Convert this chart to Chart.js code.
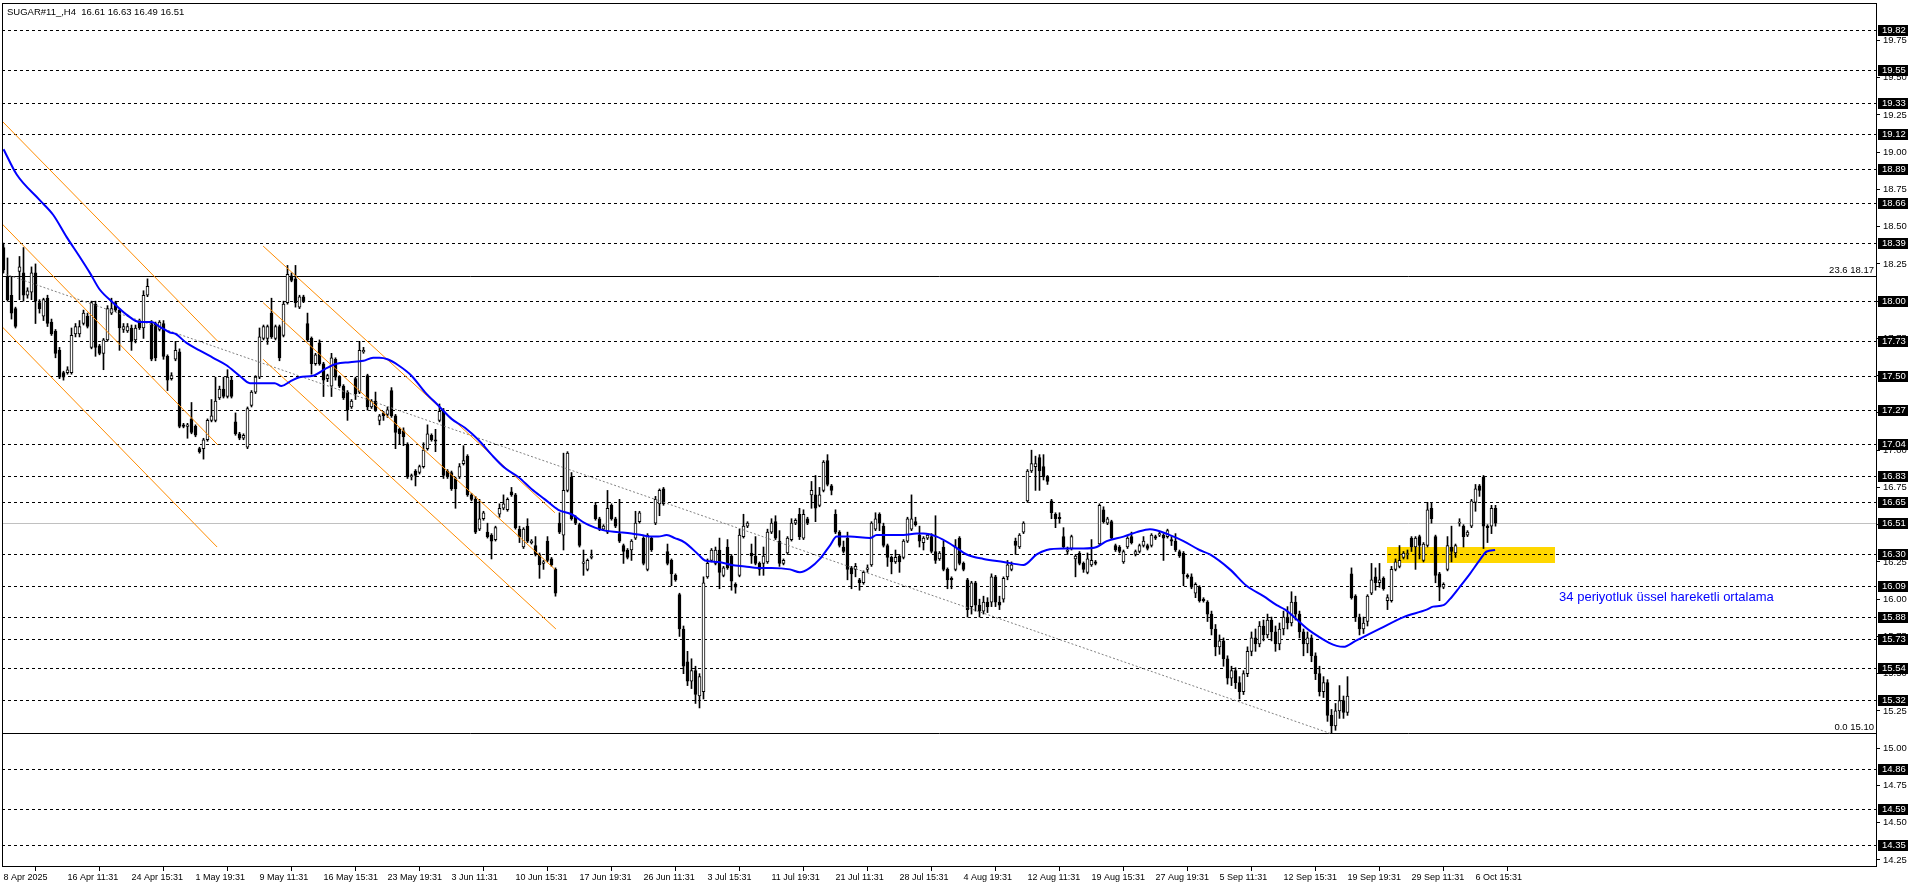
<!DOCTYPE html>
<html><head><meta charset="utf-8">
<script src="https://cdn.jsdelivr.net/npm/chart.js@4.4.1/dist/chart.umd.min.js"></script>
<style>html,body{margin:0;padding:0;background:#fff;overflow:hidden}#wrap{width:1916px;height:888px;position:relative}</style>
</head><body><div id="wrap"><canvas id="c"></canvas></div>
<script>
// ---------- DATA ----------
const opens = [
18.36,18.16,18.04,17.95,18.20,18.19,18.04,18.06,18.19,17.99,
17.90,18.02,17.86,17.80,17.67,17.52,17.52,17.52,17.78,17.78,
17.85,17.90,17.69,17.98,17.70,17.65,17.74,17.92,17.99,17.94,
17.81,17.80,17.82,17.74,17.87,17.82,18.04,17.85,17.85,17.81,
17.85,17.63,17.48,17.61,17.66,17.17,17.16,17.21,17.16,17.01,
17.01,17.07,17.20,17.20,17.35,17.41,17.36,17.47,17.19,17.11,
17.08,17.02,17.30,17.39,17.49,17.75,17.75,17.92,17.75,17.83,
17.77,17.99,18.17,18.15,17.96,18.03,17.85,17.75,17.58,17.72,
17.58,17.48,17.43,17.61,17.49,17.43,17.39,17.29,17.48,17.39,
17.66,17.50,17.29,17.33,17.20,17.25,17.24,17.40,17.23,17.14,
17.13,17.04,16.82,16.86,16.85,16.89,17.01,17.10,17.07,17.20,
17.26,16.86,16.85,16.81,16.82,16.91,16.96,16.70,16.67,16.47,
16.54,16.45,16.43,16.40,16.57,16.61,16.60,16.72,16.70,16.47,
16.35,16.49,16.38,16.36,16.30,16.24,16.39,16.27,16.20,16.51,
16.43,16.73,16.82,16.55,16.50,16.24,16.20,16.28,16.63,16.54,
16.47,16.45,16.63,16.54,16.44,16.36,16.33,16.33,16.41,16.52,
16.41,16.20,16.41,16.51,16.64,16.74,16.32,16.26,16.16,16.03,
15.80,15.58,15.45,15.52,15.35,15.38,16.15,16.26,16.24,16.33,
16.16,16.35,16.29,16.10,16.16,16.42,16.49,16.31,16.29,16.24,
16.24,16.25,16.45,16.52,16.39,16.24,16.31,16.40,16.51,16.57,
16.41,16.54,16.70,16.70,16.63,16.73,16.93,16.76,16.57,16.45,
16.35,16.41,16.21,16.20,16.13,16.11,16.20,16.23,16.47,16.57,
16.49,16.36,16.28,16.25,16.29,16.28,16.39,16.47,16.52,16.43,
16.38,16.41,16.42,16.32,16.27,16.35,16.20,16.14,16.20,16.41,
16.24,16.13,15.95,16.11,15.96,15.92,15.98,15.98,16.15,15.98,
16.00,16.15,16.20,16.39,16.35,16.45,16.66,16.86,16.89,16.95,
16.89,16.82,16.66,16.57,16.55,16.42,16.32,16.34,16.27,16.31,
16.24,16.18,16.23,16.25,16.37,16.60,16.51,16.52,16.36,16.35,
16.25,16.35,16.42,16.30,16.32,16.36,16.36,16.36,16.42,16.43,
16.43,16.42,16.40,16.39,16.32,16.31,16.16,16.15,16.04,16.08,
16.00,15.98,15.90,15.80,15.68,15.72,15.60,15.47,15.52,15.44,
15.38,15.50,15.65,15.74,15.70,15.82,15.76,15.86,15.78,15.70,
15.80,15.88,15.84,15.98,15.90,15.78,15.70,15.74,15.62,15.50,
15.38,15.44,15.22,15.15,15.25,15.32,15.24,16.17,16.02,15.88,
15.80,15.85,16.04,16.15,16.11,16.14,15.99,15.99,16.20,16.22,
16.28,16.30,16.41,16.35,16.42,16.26,16.36,16.61,16.42,16.17,
16.08,16.20,16.35,16.31,16.51,16.49,16.43,16.49,16.65,16.76,
16.82,16.49,16.49,16.61];
const highs = [
18.39,18.29,18.16,17.96,18.30,18.36,18.09,18.23,18.25,18.01,
18.02,18.04,17.88,17.81,17.69,17.53,17.56,17.82,17.85,17.87,
17.94,17.92,18.00,18.00,17.71,17.75,17.97,18.02,18.00,17.95,
17.85,17.85,17.84,17.84,17.88,18.07,18.15,17.87,17.86,17.87,
17.87,17.64,17.52,17.73,17.68,17.18,17.18,17.32,17.17,17.02,
17.08,17.21,17.34,17.49,17.43,17.49,17.54,17.49,17.25,17.12,
17.11,17.29,17.40,17.50,17.82,17.84,17.84,18.02,17.84,17.84,
18.00,18.24,18.19,18.24,18.04,18.04,17.92,17.76,17.65,17.74,
17.59,17.51,17.65,17.62,17.50,17.44,17.40,17.34,17.49,17.73,
17.69,17.51,17.34,17.39,17.24,17.26,17.29,17.42,17.24,17.15,
17.15,17.05,16.84,16.87,16.90,17.05,17.17,17.11,17.14,17.31,
17.28,16.87,16.86,16.82,16.91,17.03,16.97,16.71,16.69,16.67,
16.59,16.51,16.44,16.49,16.64,16.70,16.68,16.75,16.71,16.49,
16.48,16.54,16.40,16.42,16.31,16.26,16.42,16.28,16.21,16.58,
16.98,16.99,16.85,16.56,16.51,16.33,16.27,16.33,16.65,16.55,
16.50,16.73,16.64,16.55,16.67,16.37,16.34,16.40,16.59,16.59,
16.42,16.44,16.42,16.69,16.74,16.75,16.37,16.27,16.17,16.04,
15.82,15.65,15.60,15.55,15.50,16.15,16.27,16.34,16.35,16.41,
16.22,16.40,16.30,16.11,16.47,16.57,16.52,16.37,16.42,16.25,
16.35,16.47,16.54,16.56,16.46,16.27,16.42,16.54,16.54,16.61,
16.60,16.55,16.79,16.83,16.75,16.93,16.97,16.77,16.60,16.46,
16.39,16.45,16.22,16.24,16.14,16.19,16.23,16.52,16.58,16.58,
16.51,16.37,16.29,16.33,16.30,16.40,16.55,16.70,16.55,16.49,
16.42,16.44,16.44,16.56,16.32,16.39,16.21,16.15,16.40,16.42,
16.25,16.14,16.12,16.12,16.00,16.02,16.01,16.17,16.16,16.02,
16.15,16.26,16.25,16.41,16.44,16.52,16.87,17.00,16.96,16.97,
16.97,16.83,16.67,16.58,16.58,16.48,16.35,16.43,16.30,16.32,
16.25,16.31,16.40,16.26,16.64,16.62,16.55,16.53,16.37,16.36,
16.33,16.42,16.45,16.33,16.37,16.42,16.37,16.44,16.43,16.45,
16.44,16.47,16.42,16.44,16.33,16.32,16.17,16.17,16.11,16.09,
16.01,15.99,15.92,15.83,15.76,15.74,15.62,15.55,15.54,15.48,
15.52,15.68,15.78,15.80,15.85,15.86,15.90,15.88,15.82,15.84,
15.92,15.95,16.05,16.02,15.92,15.80,15.78,15.76,15.64,15.55,
15.48,15.46,15.26,15.30,15.42,15.35,15.48,16.21,16.03,15.90,
15.88,16.03,16.24,16.21,16.24,16.15,16.03,16.22,16.27,16.36,
16.32,16.33,16.42,16.42,16.43,16.38,16.65,16.65,16.43,16.18,
16.11,16.42,16.49,16.37,16.54,16.50,16.46,16.67,16.77,16.77,
16.83,16.50,16.63,16.63];
const lows = [
18.19,18.00,17.88,17.82,18.01,18.00,18.02,18.01,17.85,17.92,
17.87,17.83,17.77,17.62,17.48,17.47,17.51,17.51,17.76,17.76,
17.84,17.82,17.68,17.63,17.64,17.54,17.73,17.91,17.93,17.67,
17.79,17.79,17.67,17.72,17.81,17.75,18.03,17.60,17.60,17.80,
17.61,17.40,17.47,17.60,17.15,17.15,17.08,17.11,17.09,16.98,
16.94,17.06,17.19,17.19,17.34,17.35,17.35,17.35,17.10,17.07,
17.07,17.01,17.29,17.38,17.48,17.74,17.71,17.75,17.74,17.60,
17.76,17.98,18.13,17.96,17.95,17.99,17.73,17.51,17.57,17.57,
17.36,17.46,17.36,17.47,17.42,17.34,17.20,17.28,17.34,17.38,
17.65,17.27,17.28,17.26,17.17,17.20,17.22,17.22,17.01,17.04,
17.03,16.81,16.80,16.76,16.84,16.88,17.00,17.06,16.99,17.19,
16.81,16.81,16.73,16.61,16.81,16.90,16.69,16.66,16.44,16.46,
16.53,16.41,16.27,16.39,16.55,16.60,16.59,16.69,16.47,16.38,
16.34,16.38,16.37,16.29,16.14,16.20,16.25,16.22,16.02,16.44,
16.33,16.72,16.53,16.50,16.35,16.16,16.19,16.27,16.53,16.46,
16.46,16.44,16.53,16.48,16.38,16.24,16.27,16.26,16.40,16.51,
16.23,16.19,16.32,16.50,16.56,16.63,16.23,16.09,16.12,15.75,
15.50,15.42,15.40,15.30,15.27,15.33,16.14,16.25,16.23,16.07,
16.15,16.20,16.06,16.04,16.15,16.41,16.48,16.24,16.23,16.16,
16.16,16.24,16.44,16.40,16.22,16.23,16.30,16.39,16.50,16.40,
16.40,16.50,16.61,16.52,16.62,16.72,16.76,16.70,16.44,16.35,
16.31,16.13,16.07,16.15,16.06,16.10,16.18,16.22,16.46,16.46,
16.35,16.22,16.17,16.24,16.18,16.27,16.38,16.46,16.49,16.35,
16.33,16.40,16.31,16.24,16.26,16.19,16.07,16.07,16.19,16.23,
16.19,15.88,15.90,15.92,15.88,15.90,15.91,15.95,15.95,15.93,
15.98,16.13,16.19,16.30,16.34,16.44,16.65,16.85,16.73,16.73,
16.80,16.77,16.54,16.48,16.51,16.34,16.30,16.33,16.15,16.23,
16.18,16.17,16.22,16.23,16.36,16.51,16.50,16.40,16.32,16.31,
16.24,16.34,16.37,16.29,16.31,16.35,16.33,16.35,16.40,16.42,
16.26,16.41,16.36,16.32,16.28,16.09,16.14,16.07,16.01,15.98,
15.98,15.85,15.76,15.62,15.63,15.55,15.43,15.42,15.40,15.33,
15.36,15.48,15.62,15.65,15.68,15.72,15.74,15.72,15.65,15.66,
15.76,15.80,15.82,15.86,15.74,15.62,15.64,15.58,15.46,15.35,
15.34,15.18,15.10,15.12,15.20,15.20,15.22,16.00,15.85,15.76,
15.77,15.82,16.03,16.06,16.08,16.06,15.93,15.98,16.19,16.21,
16.27,16.27,16.32,16.20,16.27,16.25,16.35,16.51,16.11,15.99,
16.07,16.19,16.25,16.28,16.49,16.35,16.42,16.48,16.59,16.69,
16.34,16.38,16.44,16.49];
const closes = [
18.21,18.01,17.92,17.83,18.23,18.04,18.07,18.19,18.00,17.95,
18.01,17.85,17.78,17.65,17.49,17.49,17.54,17.77,17.83,17.83,
17.92,17.83,17.99,17.69,17.65,17.74,17.95,17.95,17.94,17.82,
17.83,17.83,17.73,17.82,17.82,18.04,18.10,17.61,17.62,17.86,
17.63,17.47,17.50,17.67,17.16,17.16,17.17,17.12,17.10,16.99,
17.07,17.20,17.23,17.33,17.41,17.36,17.49,17.36,17.11,17.08,
17.10,17.28,17.39,17.49,17.76,17.83,17.83,17.76,17.83,17.62,
17.98,18.18,18.14,17.99,18.03,18.00,17.74,17.58,17.64,17.58,
17.47,17.50,17.62,17.49,17.43,17.35,17.27,17.33,17.38,17.67,
17.67,17.29,17.33,17.27,17.23,17.23,17.27,17.23,17.12,17.11,
17.09,16.82,16.83,16.83,16.89,17.00,17.11,17.07,17.06,17.26,
16.83,16.82,16.74,16.74,16.89,16.93,16.70,16.67,16.45,16.54,
16.58,16.42,16.39,16.48,16.61,16.64,16.67,16.70,16.48,16.42,
16.47,16.39,16.39,16.30,16.23,16.25,16.26,16.23,16.04,16.45,
16.73,16.98,16.54,16.51,16.36,16.25,16.26,16.29,16.54,16.47,
16.49,16.61,16.54,16.49,16.39,16.32,16.28,16.39,16.51,16.58,
16.24,16.43,16.33,16.67,16.73,16.64,16.24,16.17,16.13,15.80,
15.55,15.45,15.52,15.36,15.48,16.11,16.24,16.33,16.33,16.18,
16.21,16.21,16.12,16.08,16.43,16.49,16.51,16.29,16.24,16.20,
16.29,16.45,16.51,16.41,16.24,16.26,16.41,16.51,16.53,16.42,
16.57,16.51,16.73,16.61,16.70,16.92,16.77,16.73,16.45,16.36,
16.32,16.20,16.17,16.22,16.11,16.18,16.21,16.51,16.54,16.51,
16.36,16.28,16.25,16.28,16.25,16.39,16.54,16.54,16.50,16.39,
16.41,16.43,16.32,16.26,16.31,16.20,16.13,16.13,16.35,16.24,
16.20,15.93,16.11,15.96,15.92,15.98,15.95,16.15,15.98,15.96,
16.14,16.23,16.23,16.36,16.43,16.51,16.86,16.91,16.91,16.86,
16.82,16.79,16.58,16.54,16.54,16.35,16.33,16.42,16.29,16.24,
16.20,16.27,16.26,16.24,16.63,16.52,16.54,16.41,16.33,16.32,
16.32,16.41,16.38,16.32,16.36,16.39,16.34,16.43,16.41,16.44,
16.41,16.46,16.39,16.33,16.29,16.17,16.15,16.08,16.10,15.99,
15.99,15.90,15.80,15.68,15.72,15.60,15.47,15.52,15.44,15.38,
15.50,15.65,15.74,15.70,15.82,15.76,15.86,15.78,15.70,15.80,
15.88,15.84,15.98,15.90,15.78,15.70,15.74,15.62,15.50,15.38,
15.44,15.22,15.15,15.25,15.32,15.24,15.35,16.01,15.88,15.80,
15.84,16.02,16.13,16.11,16.13,16.07,16.01,16.20,16.25,16.26,
16.31,16.30,16.35,16.41,16.36,16.37,16.60,16.54,16.16,16.08,
16.10,16.36,16.32,16.36,16.51,16.42,16.45,16.66,16.74,16.73,
16.49,16.48,16.61,16.51];

// 34-period EMA: bar position / value
const emaAt = [0,3.3,9,12.4,15.8,19,21.6,24,27.4,30.75,34,37,39,41.6,43,45.75,49,52.4,55.75,59,61.6,65,67.8,69.5,71.6,74,77.4,80.75,83.25,86.6,90,92.4,94,96,98.7,102,105.35,108.7,112,115.35,118.7,122,125.35,128.7,132,135.35,138.7,142,145.35,147.85,150.35,153.7,157,159.5,162,163.7,165.8,167.85,170.35,173.7,175.35,178.7,182,185.35,188.7,192,196.6,199.1,201.6,204.1,206.6,208.3,211.6,216.6,218.3,225,228.3,230,233.3,237.4,240.8,245,250,255,258.3,260.8,265,270,273.3,275.8,280,283.3,286.6,291.6,295,299,301.6,306.6,310.75,315,318.3,320.4,327,335,338,344,350,355.8,357.4,360,361.6,364,366.6,369,370.8,372.9];
const emaVal = [19.02,18.85,18.68,18.58,18.43,18.30,18.19,18.08,17.99,17.91,17.86,17.86,17.83,17.79,17.78,17.72,17.67,17.62,17.57,17.50,17.45,17.45,17.45,17.43,17.46,17.49,17.50,17.55,17.58,17.59,17.60,17.62,17.62,17.61,17.57,17.50,17.39,17.30,17.21,17.15,17.07,16.97,16.88,16.82,16.74,16.67,16.60,16.57,16.51,16.48,16.46,16.45,16.44,16.43,16.42,16.42,16.43,16.41,16.38,16.30,16.26,16.25,16.23,16.22,16.21,16.21,16.20,16.18,16.21,16.27,16.36,16.42,16.42,16.41,16.43,16.43,16.44,16.44,16.42,16.36,16.30,16.27,16.25,16.23,16.30,16.33,16.34,16.34,16.35,16.39,16.42,16.45,16.47,16.43,16.39,16.33,16.30,16.20,16.09,16.02,15.96,15.93,15.78,15.68,15.72,15.80,15.88,15.93,15.95,15.96,16.00,16.08,16.17,16.26,16.32,16.33];

// x-axis labels, one every 16 bars
const dateLabels = ['8 Apr 2025','16 Apr 11:31','24 Apr 15:31','1 May 19:31','9 May 11:31','16 May 15:31','23 May 19:31','3 Jun 11:31','10 Jun 15:31','17 Jun 19:31','26 Jun 11:31','3 Jul 15:31','11 Jul 19:31','21 Jul 11:31','28 Jul 15:31','4 Aug 19:31','12 Aug 11:31','19 Aug 15:31','27 Aug 19:31','5 Sep 11:31','12 Sep 15:31','19 Sep 19:31','29 Sep 11:31','6 Oct 15:31'];
const barsPerLabel = 16;

// horizontal levels
const levelPrices = [19.82,19.55,19.33,19.12,18.89,18.66,18.39,18.00,17.73,17.50,17.27,17.04,16.83,16.65,16.30,16.09,15.88,15.73,15.54,15.32,14.86,14.59,14.35];
const bidPrice = 16.51;
const fibPrices = [18.17, 15.10];
const fibLabels = ['23.6 18.17', '0.0 15.10'];

// channel lines: [barStart, priceStart, barEnd, priceEnd]
const orangeLines = [
  [-0.4,19.21,53.6,17.73],[-0.4,18.52,53.6,17.035],[-0.4,17.83,53.4,16.35],
  [64.9,18.37,137.85,16.58],[64.9,17.99,137.85,16.20],[64.9,17.61,138.1,15.80]
];
const grayLine = [-0.4,18.19,331.6,15.10];

// support zone and note
const zoneBars = [345.85, 387.85];
const zonePrices = [16.24, 16.35];
const noteText = '34 periyotluk üssel hareketli ortalama';
const noteAt = [388.9, 16.01];
const titleText = 'SUGAR#11_,H4  16.61 16.63 16.49 16.51';

// ---------- CHART ----------
const FONT = 'Liberation Sans';
const idx = opens.map((_, i) => i);
const bodies = idx.map(i => ({x: i, y: [opens[i], closes[i]]}));
const wicks = idx.map(i => ({x: i, y: [lows[i], highs[i]]}));
const bodyColors = idx.map(i => closes[i] >= opens[i] ? '#ffffff' : '#000000');
const ema = emaAt.map((b, k) => ({x: b, y: emaVal[k]}));

const lineDs = (pts, color, width, dash, order) => ({
  type: 'line', data: pts, borderColor: color, borderWidth: width, borderDash: dash,
  pointRadius: 0, fill: false, order: order, tension: 0
});

const datasets = [
  Object.assign(lineDs(ema, '#0000ff', 2, [], 0), {cubicInterpolationMode: 'monotone'}),
  ...orangeLines.map(l => lineDs([{x: l[0], y: l[1]}, {x: l[2], y: l[3]}], '#ff8c00', 1, [], 1)),
  lineDs([{x: grayLine[0], y: grayLine[1]}, {x: grayLine[2], y: grayLine[3]}], '#808080', 1, [2, 2], 2),
  {type: 'bar', data: bodies, backgroundColor: bodyColors, borderColor: '#000', borderWidth: 1,
   borderSkipped: false, barThickness: 3, minBarLength: 1, grouped: false, order: 3},
  {type: 'bar', data: wicks, backgroundColor: '#000', borderWidth: 0, barThickness: 1,
   grouped: false, order: 4}
];

const overlay = {
  id: 'overlay',
  beforeDatasetsDraw(chart) {
    const {ctx, chartArea: a, scales: {x, y}} = chart;
    ctx.save();
    ctx.beginPath(); ctx.rect(a.left, a.top, a.right - a.left, a.bottom - a.top); ctx.clip();
    const zx1 = x.getPixelForValue(zoneBars[0]), zx2 = x.getPixelForValue(zoneBars[1]);
    const zy1 = y.getPixelForValue(zonePrices[1]), zy2 = y.getPixelForValue(zonePrices[0]);
    ctx.fillStyle = '#ffd700';
    ctx.fillRect(Math.round(zx1), Math.round(zy1), Math.round(zx2 - zx1), Math.round(zy2 - zy1));
    ctx.strokeStyle = '#c0c0c0'; ctx.lineWidth = 1;
    let py = Math.round(y.getPixelForValue(bidPrice)) + 0.5;
    ctx.beginPath(); ctx.moveTo(a.left, py); ctx.lineTo(a.right, py); ctx.stroke();
    ctx.strokeStyle = '#000'; ctx.setLineDash([3, 3]);
    levelPrices.forEach(p => {
      const yy = Math.round(y.getPixelForValue(p)) + 0.5;
      ctx.beginPath(); ctx.moveTo(a.left, yy); ctx.lineTo(a.right, yy); ctx.stroke();
    });
    ctx.setLineDash([]);
    fibPrices.forEach(p => {
      const yy = Math.round(y.getPixelForValue(p)) + 0.5;
      ctx.beginPath(); ctx.moveTo(a.left, yy); ctx.lineTo(a.right, yy); ctx.stroke();
    });
    ctx.restore();
  },
  afterDatasetsDraw(chart) {
    const {ctx, chartArea: a, scales: {x, y}} = chart;
    ctx.save();
    ctx.font = '9.5px "' + FONT + '"';
    ctx.fillStyle = '#000'; ctx.textAlign = 'right'; ctx.textBaseline = 'alphabetic';
    fibPrices.forEach((p, k) => {
      const yy = Math.round(y.getPixelForValue(p));
      ctx.fillText(fibLabels[k], a.right - 3, yy - 3);
    });
    ctx.font = '13px "' + FONT + '"';
    ctx.fillStyle = '#0000ff'; ctx.textAlign = 'left'; ctx.textBaseline = 'middle';
    ctx.fillText(noteText, x.getPixelForValue(noteAt[0]), y.getPixelForValue(noteAt[1]));
    ctx.restore();
  },
  afterDraw(chart) {
    const {ctx, chartArea: a, scales: {y}} = chart;
    ctx.save();
    ctx.strokeStyle = '#000'; ctx.lineWidth = 1;
    ctx.strokeRect(a.left + 0.5, a.top + 0.5, a.right - a.left - 1, a.bottom - a.top - 1);
    ctx.font = '9.5px "' + FONT + '"'; ctx.textBaseline = 'middle'; ctx.textAlign = 'left';
    [...levelPrices, bidPrice].forEach(p => {
      const yy = Math.round(y.getPixelForValue(p));
      ctx.fillStyle = '#000';
      ctx.fillRect(a.right + 1, yy - 5, 30, 11);
      ctx.fillStyle = '#fff';
      ctx.fillText(p.toFixed(2), a.right + 5, yy + 0.5);
    });
    ctx.fillStyle = '#000'; ctx.textBaseline = 'middle';
    ctx.fillText(titleText, a.left + 5, a.top + 9);
    ctx.restore();
  }
};

const noPad = s => { s.paddingTop = 0; s.paddingBottom = 0; s.paddingLeft = 0; s.paddingRight = 0; };

new Chart(document.getElementById('c'), {
  type: 'bar',
  data: {datasets},
  options: {
    responsive: true, maintainAspectRatio: false, animation: false,
    layout: {padding: {left: 2, top: 3, right: 0, bottom: 0}},
    plugins: {legend: {display: false}, tooltip: {enabled: false}},
    scales: {
      x: {
        type: 'linear', min: -0.375, max: 468.375, offset: false,
        border: {display: false},
        grid: {display: true, drawOnChartArea: false, drawTicks: true, tickLength: 4, color: '#000'},
        afterBuildTicks: s => { s.ticks = dateLabels.map((_, k) => ({value: k * barsPerLabel})); },
        afterFit: s => { s.height = 21; noPad(s); },
        ticks: {
          autoSkip: false, maxRotation: 0, minRotation: 0, align: 'start', padding: 1,
          color: '#000', font: {family: FONT, size: 9},
          callback: v => dateLabels[Math.round(v / barsPerLabel)] || ''
        }
      },
      y: {
        type: 'linear', position: 'right', min: 14.2025, max: 20.0012,
        border: {display: false},
        grid: {display: true, drawOnChartArea: false, drawTicks: true, tickLength: 3, color: '#000'},
        afterBuildTicks: s => { const t = []; for (let k = 1; k <= 23; k++) t.push({value: 14 + k * 0.25}); s.ticks = t; },
        afterFit: s => { s.width = 39; noPad(s); },
        ticks: {
          padding: 3, color: '#000', font: {family: FONT, size: 9.5},
          callback: v => Number(v).toFixed(2)
        }
      }
    }
  },
  plugins: [overlay]
});
</script>
</body></html>
